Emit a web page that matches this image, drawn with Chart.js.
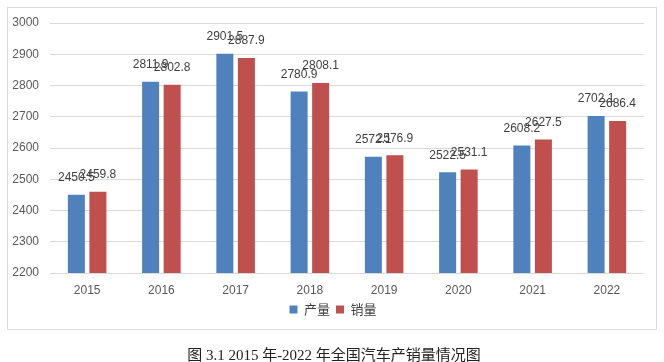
<!DOCTYPE html>
<html>
<head>
<meta charset="utf-8">
<script src="https://cdn.jsdelivr.net/npm/chart.js@4/dist/chart.umd.min.js"></script>
<style>
  html, body { margin: 0; padding: 0; background: #ffffff; }
  #wrap { position: relative; width: 664px; height: 362px; overflow: hidden; }
  #c { position: absolute; left: 0; top: 0; }
  #cap { position: absolute; left: 0; width: 664px; top: 343px; text-align: center;
         font-family: "Liberation Serif", "Noto Sans CJK SC", serif; font-size: 15px; color: #222; padding-left: 2px; }
</style>
</head>
<body>
<div id="wrap">
  <canvas id="c" width="664" height="362"></canvas>
  <div id="cap">图 3.1 2015 年-2022 年全国汽车产销量情况图</div>
</div>
<script>
const categories = ["2015", "2016", "2017", "2018", "2019", "2020", "2021", "2022"];
const production = [2450.5, 2811.9, 2901.5, 2780.9, 2572.1, 2522.5, 2608.2, 2702.1];
const sales = [2459.8, 2802.8, 2887.9, 2808.1, 2576.9, 2531.1, 2627.5, 2686.4];
const seriesNames = ["产量", "销量"];
const yMin = 2200, yMax = 3000, yStep = 100;

const borderPlugin = {
  id: 'outerBorder',
  beforeDraw(chart) {
    const ctx = chart.ctx;
    ctx.save();
    ctx.fillStyle = '#ffffff';
    ctx.fillRect(0, 0, chart.width, chart.height);
    ctx.strokeStyle = '#d9d9d9';
    ctx.lineWidth = 1;
    ctx.strokeRect(7.5, 7.5, 649, 322);
    ctx.restore();
  },
  afterLayout(chart) {
    // centre the legend on the chart's frame rather than the padded canvas
    if (chart.legend) {
      chart.legend.left += 11;
      chart.legend.right += 11;
    }
  }
};

const labelPlugin = {
  id: 'valueLabels',
  afterDatasetsDraw(chart) {
    const ctx = chart.ctx;
    ctx.save();
    ctx.font = '12px "Liberation Sans", Arial, sans-serif';
    ctx.fillStyle = '#404040';
    ctx.textAlign = 'center';
    ctx.textBaseline = 'middle';
    chart.data.datasets.forEach((ds, i) => {
      const meta = chart.getDatasetMeta(i);
      meta.data.forEach((bar, j) => {
        ctx.fillText(ds.data[j].toFixed(1), bar.x, bar.y - 17);
      });
    });
    ctx.restore();
  }
};

new Chart(document.getElementById('c'), {
  type: 'bar',
  data: {
    labels: categories,
    datasets: [
      { label: seriesNames[0], data: production, backgroundColor: '#4f81bd' },
      { label: seriesNames[1], data: sales, backgroundColor: '#c0504d' }
    ]
  },
  options: {
    responsive: false,
    animation: false,
    devicePixelRatio: 1,
    layout: { padding: { top: 23, right: 20, bottom: 36, left: 0 } },
    datasets: { bar: { categoryPercentage: 0.58, barPercentage: 0.79 } },
    plugins: {
      legend: {
        position: 'bottom',
        labels: {
          boxWidth: 8, boxHeight: 8, padding: 6,
          color: '#404040',
          font: { family: '"Noto Sans CJK SC", sans-serif', size: 13 }
        }
      },
      tooltip: { enabled: false }
    },
    scales: {
      x: {
        grid: { display: false, drawTicks: false },
        border: { display: false },
        ticks: { color: '#595959', padding: 12, font: { family: '"Liberation Sans", Arial, sans-serif', size: 12, lineHeight: 1 } },
        afterFit(s) { s.height = 24; }
      },
      y: {
        min: yMin, max: yMax,
        grid: { color: '#d9d9d9', drawTicks: false },
        border: { display: false },
        ticks: { stepSize: yStep, color: '#595959', padding: 11,
                 font: { family: '"Liberation Sans", Arial, sans-serif', size: 12 },
                 callback: (v) => String(v) },
        afterFit(s) { s.width = 50; }
      }
    }
  },
  plugins: [borderPlugin, labelPlugin]
});
</script>
</body>
</html>
